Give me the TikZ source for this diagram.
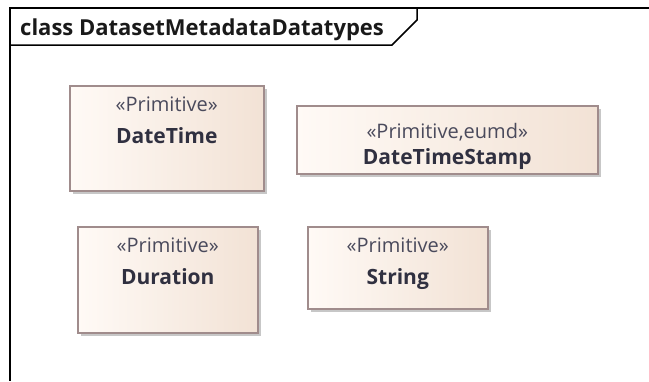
\documentclass[tikz,border=0pt]{standalone}
\usepackage{fontspec}
\setmainfont{Open Sans}
\usetikzlibrary{positioning,shadows}
\definecolor{boxline}{HTML}{A08C8C}
\definecolor{boxleft}{HTML}{FFFAF6}
\definecolor{boxright}{HTML}{F2E2D5}
\definecolor{stereotxt}{HTML}{4A4A5C}
\definecolor{nametxt}{HTML}{303040}
\tikzset{
	frameline/.style={line width=1.5pt, black},
	primbox/.style={draw=boxline, line width=1.5pt, left color=boxleft, right color=boxright,
		rectangle, anchor=north west, inner sep=0pt,
		drop shadow={shadow xshift=3pt, shadow yshift=-3pt, fill=black!22, opacity=1}},
	stereo/.style={anchor=base, inner sep=0pt, text=stereotxt, font=\fontsize{20}{22}\selectfont},
	typename/.style={anchor=base, inner sep=0pt, text=nametxt, font=\fontsize{21}{23}\selectfont\bfseries}
}

\begin{document}
\begin{tikzpicture}[x=1pt, y=-1pt]
	\useasboundingbox (0,0) rectangle (649,381);
	% diagram frame
	\draw[frameline] (649,8) -- (10,8) -- (10,381);
	\draw[frameline] (10,45) -- (392,45) -- (417,20) -- (417,8);
	\node[anchor=base west, inner sep=0pt, text=black!90, font=\fontsize{22}{24}\selectfont\bfseries] (title) at (20,35) {class DatasetMetadataDatatypes};

	% primitive types
	\node[primbox, minimum width=194pt, minimum height=105pt] (dt) at (69,85) {};
	\node[stereo] (dtst) at ([yshift=-26pt]dt.north) {«Primitive»};
	\node[typename] (dtnm) at ([yshift=-58pt]dt.north) {DateTime};

	\node[primbox, minimum width=301pt, minimum height=68pt] (dts) at (296,105) {};
	\node[stereo] (dtsst) at ([yshift=-33pt]dts.north) {«Primitive,eumd»};
	\node[typename] (dtsnm) at ([yshift=-59pt]dts.north) {DateTimeStamp};

	\node[primbox, minimum width=180pt, minimum height=106pt] (dur) at (77,226) {};
	\node[stereo] (durst) at ([yshift=-26pt]dur.north) {«Primitive»};
	\node[typename] (durnm) at ([yshift=-58pt]dur.north) {Duration};

	\node[primbox, minimum width=180pt, minimum height=82pt] (str) at (307,226) {};
	\node[stereo] (strst) at ([yshift=-26pt]str.north) {«Primitive»};
	\node[typename] (strnm) at ([yshift=-58pt]str.north) {String};
\end{tikzpicture}
\end{document}
